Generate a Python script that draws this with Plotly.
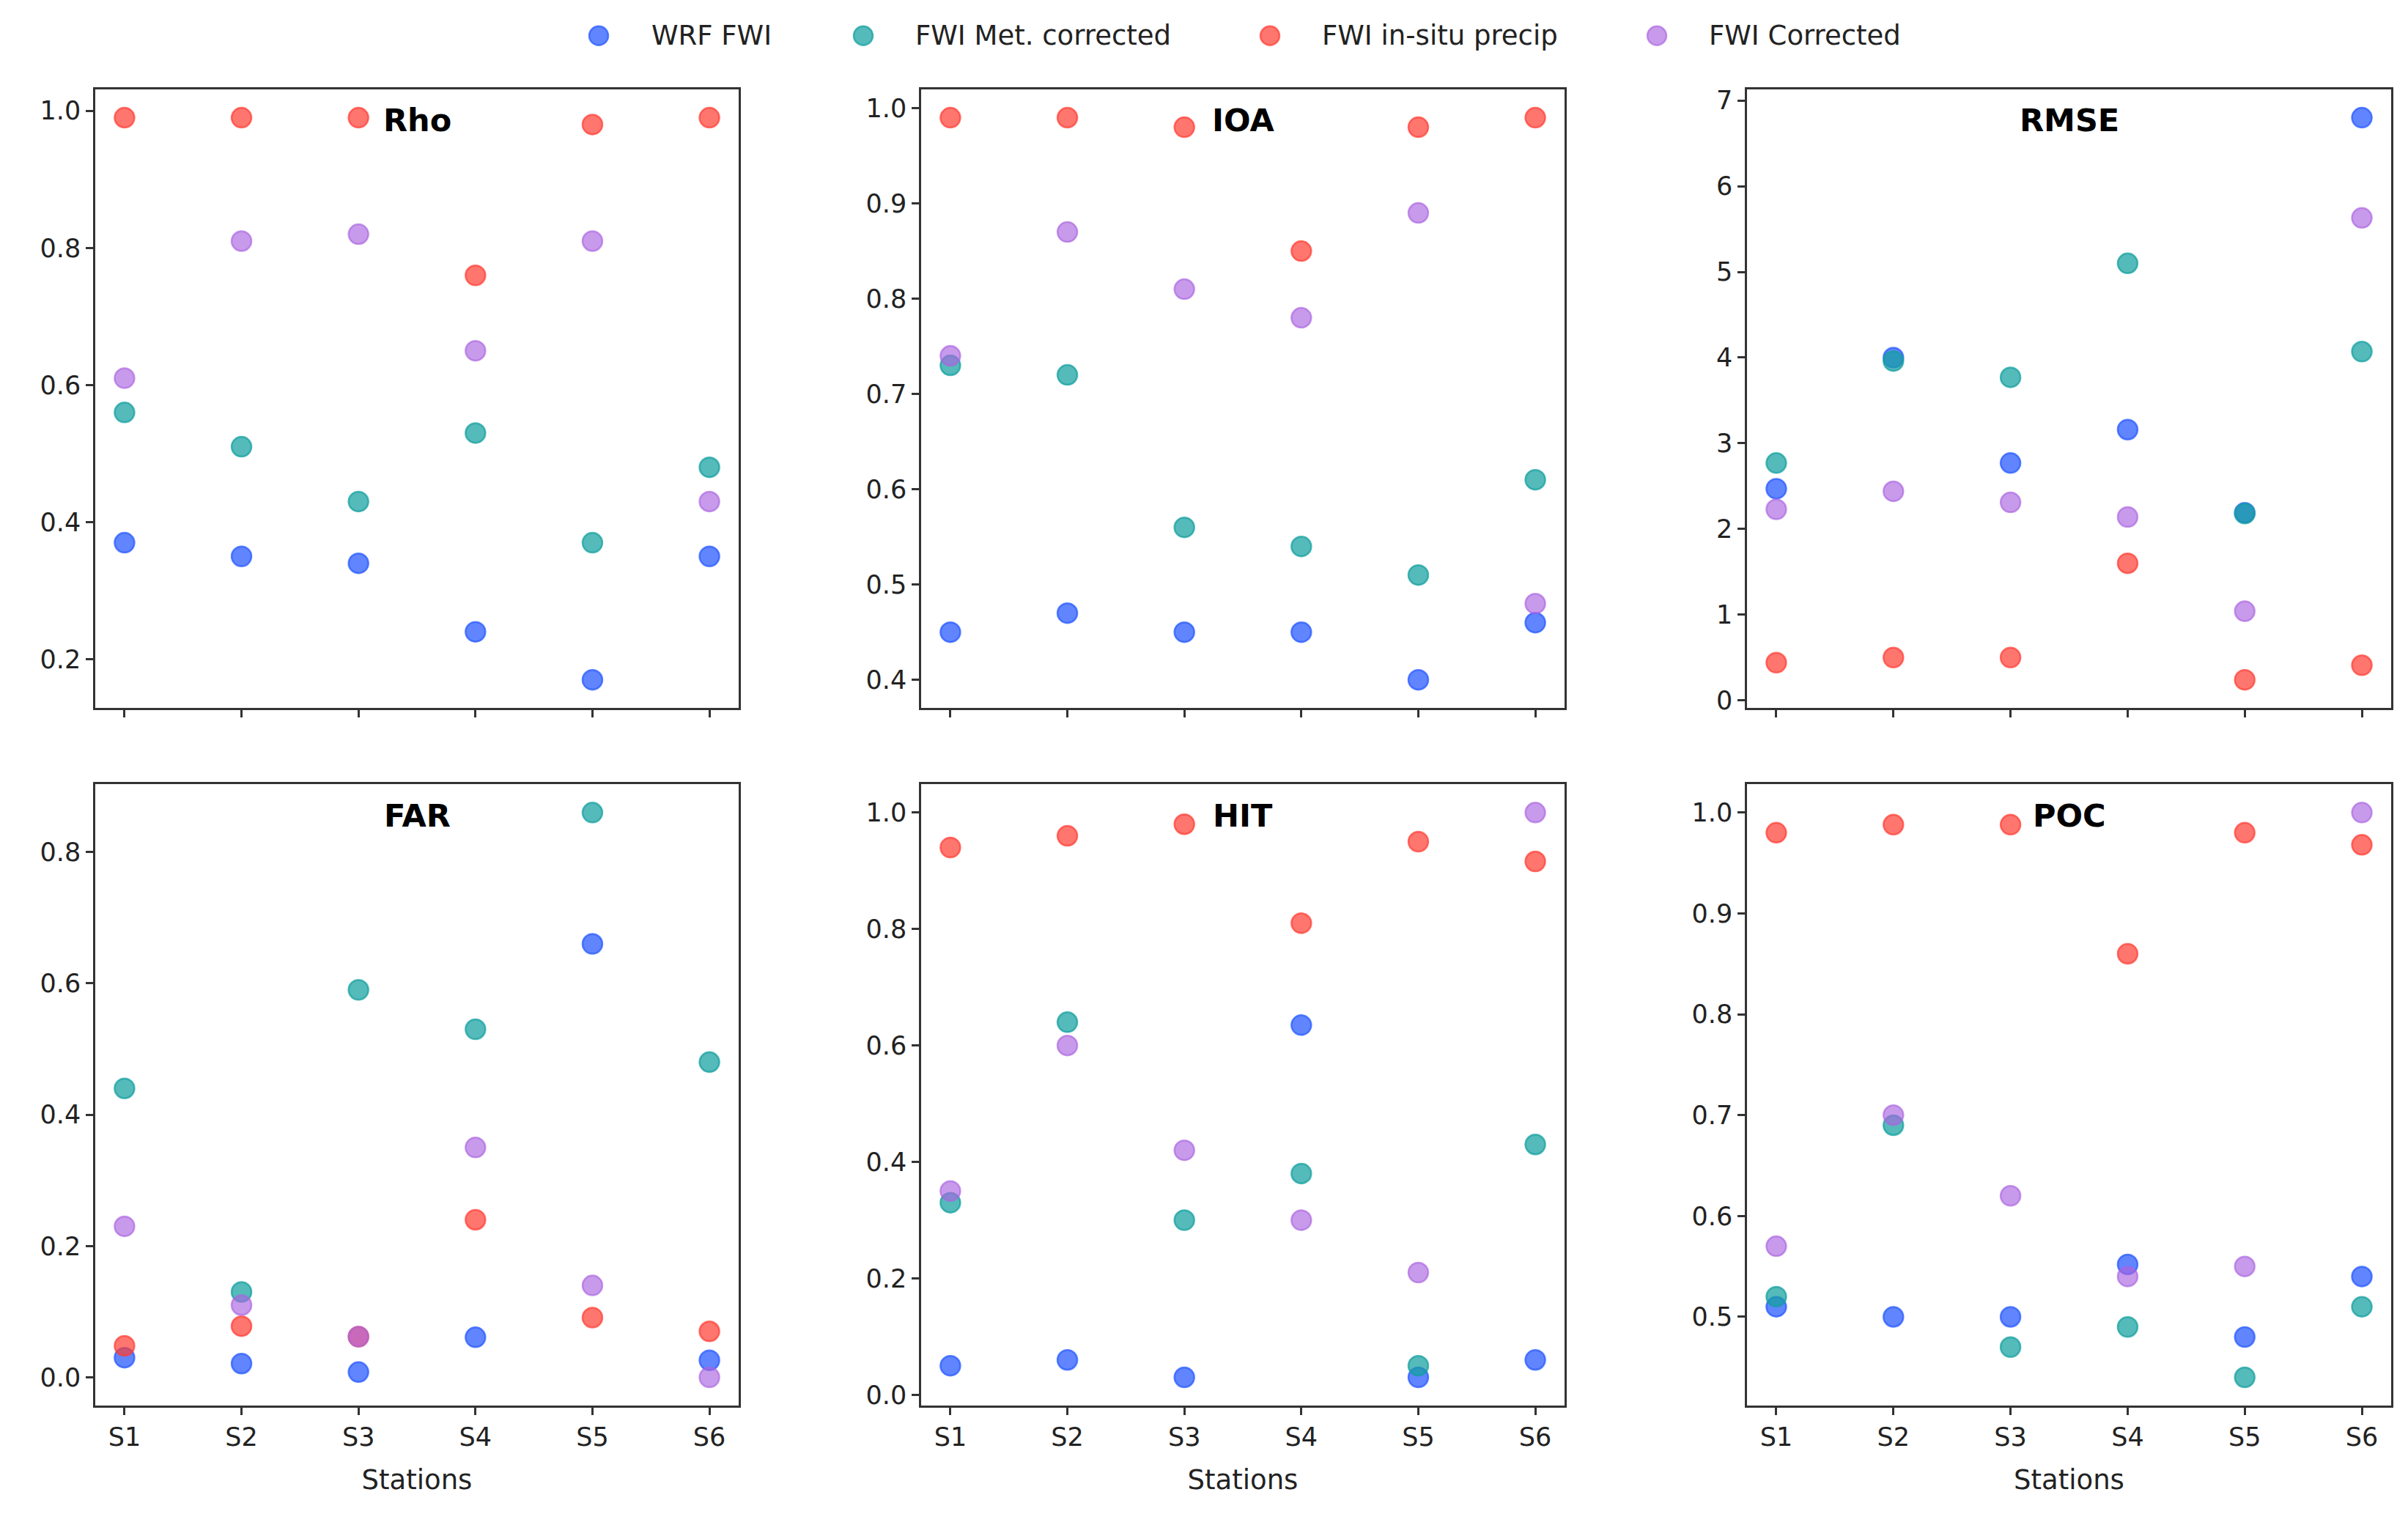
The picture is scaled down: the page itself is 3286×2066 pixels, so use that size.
import plotly.graph_objects as go
from plotly.subplots import make_subplots

stations = ["S1", "S2", "S3", "S4", "S5", "S6"]
series_names = ["WRF FWI", "FWI Met. corrected", "FWI in-situ precip", "FWI Corrected"]
series_colors = [
    "rgba(40,90,255,0.74)",
    "rgba(20,160,160,0.72)",
    "rgba(255,60,50,0.70)",
    "rgba(170,100,225,0.65)",
]

# Rho
rho_wrf = [0.37, 0.35, 0.34, 0.24, 0.17, 0.35]
rho_met = [0.56, 0.51, 0.43, 0.53, 0.37, 0.48]
rho_insitu = [0.99, 0.99, 0.99, 0.76, 0.98, 0.99]
rho_corr = [0.61, 0.81, 0.82, 0.65, 0.81, 0.43]

# IOA
ioa_wrf = [0.45, 0.47, 0.45, 0.45, 0.40, 0.46]
ioa_met = [0.73, 0.72, 0.56, 0.54, 0.51, 0.61]
ioa_insitu = [0.99, 0.99, 0.98, 0.85, 0.98, 0.99]
ioa_corr = [0.74, 0.87, 0.81, 0.78, 0.89, 0.48]

# RMSE
rmse_wrf = [2.47, 4.00, 2.77, 3.16, 2.19, 6.80]
rmse_met = [2.77, 3.96, 3.77, 5.10, 2.18, 4.07]
rmse_insitu = [0.44, 0.50, 0.50, 1.60, 0.24, 0.41]
rmse_corr = [2.23, 2.44, 2.31, 2.14, 1.04, 5.63]

# FAR
far_wrf = [0.03, 0.021, 0.008, 0.061, 0.66, 0.026]
far_met = [0.44, 0.13, 0.59, 0.53, 0.86, 0.48]
far_insitu = [0.048, 0.078, 0.062, 0.24, 0.091, 0.07]
far_corr = [0.23, 0.11, 0.062, 0.35, 0.14, 0.0]

# HIT
hit_wrf = [0.05, 0.06, 0.03, 0.635, 0.03, 0.06]
hit_met = [0.33, 0.64, 0.30, 0.38, 0.05, 0.43]
hit_insitu = [0.94, 0.96, 0.98, 0.81, 0.95, 0.916]
hit_corr = [0.35, 0.60, 0.42, 0.30, 0.21, 1.00]

# POC
poc_wrf = [0.51, 0.50, 0.50, 0.552, 0.48, 0.54]
poc_met = [0.52, 0.69, 0.47, 0.49, 0.44, 0.51]
poc_insitu = [0.98, 0.988, 0.988, 0.86, 0.98, 0.968]
poc_corr = [0.57, 0.70, 0.62, 0.54, 0.55, 1.00]

panels = [
    ("Rho", [rho_wrf, rho_met, rho_insitu, rho_corr], 0.2),
    ("IOA", [ioa_wrf, ioa_met, ioa_insitu, ioa_corr], 0.1),
    ("RMSE", [rmse_wrf, rmse_met, rmse_insitu, rmse_corr], 1),
    ("FAR", [far_wrf, far_met, far_insitu, far_corr], 0.2),
    ("HIT", [hit_wrf, hit_met, hit_insitu, hit_corr], 0.2),
    ("POC", [poc_wrf, poc_met, poc_insitu, poc_corr], 0.1),
]

W, H = 3286, 2066
OFF = 8  # page body margin
col_px = [(130, 1008), (1257, 2135), (2384, 3263)]
row_px = [(118, 968), (1073, 1927)]
FONT = "DejaVu Sans"

fig = make_subplots(rows=2, cols=3)

for i, (title, series, dtick) in enumerate(panels):
    r, c = i // 3 + 1, i % 3 + 1
    for k, vals in enumerate(series):
        fig.add_trace(
            go.Scatter(
                x=stations,
                y=vals,
                mode="markers",
                name=series_names[k],
                showlegend=False,
                marker=dict(
                    size=27,
                    color=series_colors[k],
                    line=dict(width=2.5, color=series_colors[k]),
                ),
            ),
            row=r,
            col=c,
        )
    # matplotlib-style 5% autoscale margins
    allv = [v for s in series for v in s]
    lo, hi = min(allv), max(allv)
    pad = (hi - lo) * 0.05
    x0, x1 = col_px[c - 1]
    y0, y1 = row_px[r - 1]
    axn = "" if i == 0 else str(i + 1)
    fig.layout["xaxis" + axn].update(
        domain=[(x0 - OFF) / W, (x1 - OFF) / W],
        range=[-0.25, 5.25],
        showticklabels=(r == 2),
        title=dict(text="Stations" if r == 2 else "", font=dict(size=37, family=FONT, color="#222"), standoff=27),
    )
    fig.layout["yaxis" + axn].update(
        domain=[1 - (y1 - OFF) / H, 1 - (y0 - OFF) / H],
        range=[lo - pad, hi + pad],
        dtick=dtick,
        tickformat=".1f" if dtick < 1 else "d",
    )
    fig.add_annotation(
        text="<b>%s</b>" % title,
        xref="x%s domain" % axn,
        yref="y%s domain" % axn,
        x=0.5,
        y=0.95,
        xanchor="center",
        yanchor="middle",
        showarrow=False,
        font=dict(size=43, family=FONT, color="black"),
    )

axis_style = dict(
    showline=True,
    mirror=True,
    linecolor="#333",
    linewidth=2.5,
    showgrid=False,
    zeroline=False,
    ticks="outside",
    ticklen=10,
    tickwidth=2.5,
    tickcolor="#333",
    tickfont=dict(size=35, family=FONT, color="#222"),
)
fig.update_xaxes(**axis_style)
fig.update_yaxes(**axis_style)

# legend row across the top (drawn by hand so the symbols match the plot markers)
legend_marker_x = [817, 1178, 1733, 2261]
legend_text_x = [887, 1247, 1802, 2330]
legend_y = 44
for k, name in enumerate(series_names):
    cx = legend_marker_x[k] - OFF
    cy = legend_y - OFF
    fig.add_shape(
        type="circle",
        xref="paper",
        yref="paper",
        x0=(cx - 13) / W,
        x1=(cx + 13) / W,
        y0=1 - (cy + 13) / H,
        y1=1 - (cy - 13) / H,
        fillcolor=series_colors[k],
        line=dict(width=2.5, color=series_colors[k]),
    )
    fig.add_annotation(
        text=name,
        xref="paper",
        yref="paper",
        x=(legend_text_x[k] - OFF) / W,
        y=1 - cy / H,
        xanchor="left",
        yanchor="middle",
        showarrow=False,
        font=dict(size=37, family=FONT, color="#222"),
    )

fig.update_layout(
    width=W,
    height=H,
    margin=dict(l=0, r=0, t=0, b=0),
    plot_bgcolor="white",
    paper_bgcolor="white",
    font=dict(family=FONT, color="#222"),
    showlegend=False,
)

fig.write_html("out.html")
